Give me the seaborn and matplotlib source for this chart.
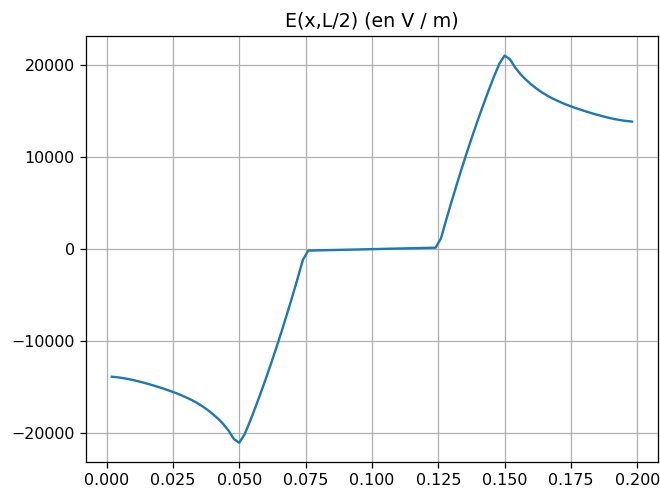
import numpy as np
import pandas as pd
import matplotlib
matplotlib.use("Agg")
import matplotlib.pyplot as plt
import seaborn as sns

# positions along x (m)
x_values = [round(0.002 * i, 3) for i in range(1, 100)]

# E(x, L/2) in V/m
e_left_outer = [-13870, -13930, -14010, -14110, -14230, -14370, -14520, -14680,
                -14850, -15030, -15220, -15420, -15630, -15860, -16120, -16390,
                -16700, -17060, -17460, -17920, -18430, -19020, -19740, -20650,
                -21050]
e_left_rise = [-20150, -18770, -17280, -15720, -14110, -12440, -10710, -8920,
               -7070, -5160, -3190, -1160]
e_middle = [-160, -145, -130, -118, -105, -93, -80, -68, -55, -42, -28, -14, 0,
            14, 28, 42, 55, 68, 80, 93, 105, 118, 130, 145, 160]
e_right_rise = [1160, 3190, 5160, 7070, 8920, 10710, 12440, 14110, 15720,
                17280, 18770, 20150]
e_right_outer = [21050, 20650, 19740, 19020, 18430, 17920, 17460, 17060, 16700,
                 16390, 16120, 15860, 15630, 15420, 15220, 15030, 14850, 14680,
                 14520, 14370, 14230, 14110, 14010, 13930, 13870]

e_values = e_left_outer + e_left_rise + e_middle + e_right_rise + e_right_outer

title_text = "E(x,L/2) (en V / m)"
x_ticks = [0.0, 0.025, 0.05, 0.075, 0.1, 0.125, 0.15, 0.175, 0.2]
x_tick_labels = ["0.000", "0.025", "0.050", "0.075", "0.100", "0.125",
                 "0.150", "0.175", "0.200"]
y_ticks = [-20000, -10000, 0, 10000, 20000]
y_tick_labels = ["\u221220000", "\u221210000", "0", "10000", "20000"]

df = pd.DataFrame({"x": x_values, "E": e_values})

plt.rcParams["font.family"] = ["DejaVu Sans"]
DPI = 114
fig = plt.figure(figsize=(660 / DPI, 489 / DPI), dpi=DPI)
ax = fig.add_axes([0.130, 0.055, 0.867, 0.871])
sns.lineplot(data=df, x="x", y="E", ax=ax, color="#1f77b4", linewidth=1.5)
ax.set_xlabel("")
ax.set_ylabel("")
ax.set_title(title_text, fontsize=12)
ax.grid(True, color="#b0b0b0", linewidth=0.8)
ax.set_axisbelow(True)
ax.set_xticks(x_ticks)
ax.set_xticklabels(x_tick_labels)
ax.set_yticks(y_ticks)
ax.set_yticklabels(y_tick_labels)
ax.tick_params(labelsize=10)
ax.set_xlim(-0.0078, 0.2078)
ax.set_ylim(-23155, 23155)
fig.savefig("out.png", dpi=DPI)
